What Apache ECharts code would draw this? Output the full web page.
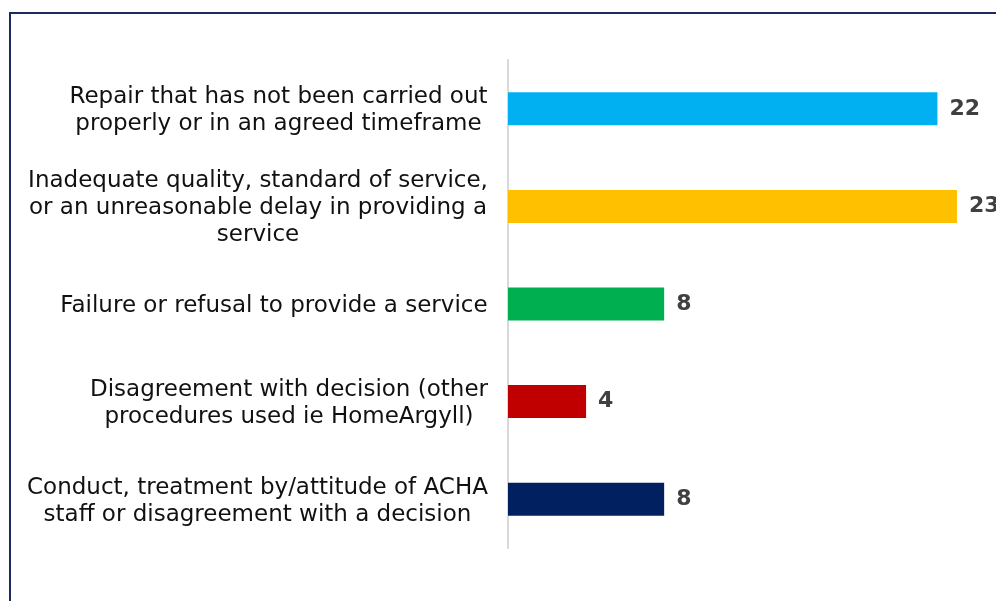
<!DOCTYPE html>
<html>
<head>
<meta charset="utf-8">
<script src="https://cdn.jsdelivr.net/npm/echarts@6/dist/echarts.min.js"></script>
<style>
  html, body { margin: 0; padding: 0; background: #fff; }
  #main { width: 996px; height: 601px; }
</style>
</head>
<body>
<div id="main"></div>
<script>
// 分类和数值
var categories = [
    'Repair that has not been carried out\nproperly or in an agreed timeframe',
    'Inadequate quality, standard of service,\nor an unreasonable delay in providing a\nservice',
    'Failure or refusal to provide a service',
    'Disagreement with decision (other\nprocedures used ie HomeArgyll)',
    'Conduct, treatment by/attitude of ACHA\nstaff or disagreement with a decision'
];
var counts = [22, 23, 8, 4, 8];
var barColors = ['#00b0f0', '#ffc000', '#00b050', '#c00000', '#002060'];

var labelFont = 'DejaVu Sans';
var labelSize = 23;

// 每个标签按最长一行算宽度，行内居中
var ctx = document.createElement('canvas').getContext('2d');
ctx.font = labelSize + 'px "' + labelFont + '"';
var rich = {};
categories.forEach(function (c, i) {
    var w = 0;
    c.split('\n').forEach(function (line) {
        w = Math.max(w, ctx.measureText(line).width);
    });
    rich['c' + i] = {
        width: Math.ceil(w),
        align: 'center',
        fontFamily: labelFont,
        fontSize: labelSize,
        lineHeight: 27,
        color: '#111111'
    };
});

var myChart = echarts.init(document.getElementById('main'));

var option = {
    backgroundColor: '#ffffff',
    animation: false,
    // 外框
    graphic: [
        {
            type: 'rect',
            shape: { x: 10, y: 13, width: 1000, height: 600 },
            style: { fill: 'none', stroke: '#1c2a5e', lineWidth: 2 }
        }
    ],
    grid: {
        left: 508,
        top: 60,
        width: 489,
        height: 488
    },
    xAxis: {
        type: 'value',
        min: 0,
        max: 25,
        show: false
    },
    yAxis: {
        type: 'category',
        inverse: true,
        data: categories,
        axisLine: { show: true, lineStyle: { color: '#d9d9d9', width: 2 } },
        axisTick: { show: false },
        axisLabel: {
            margin: 20,
            align: 'right',
            padding: [4, 0, 0, 0],
            fontFamily: labelFont,
            fontSize: labelSize,
            lineHeight: 27,
            color: '#111111',
            formatter: function (value) {
                var i = categories.indexOf(value);
                return value.split('\n').map(function (line) {
                    return '{c' + i + '|' + line + '}';
                }).join('\n');
            },
            rich: rich
        }
    },
    series: [
        {
            type: 'bar',
            barWidth: 33,
            data: counts.map(function (v, i) {
                return { value: v, itemStyle: { color: barColors[i] } };
            }),
            label: {
                show: true,
                position: 'right',
                distance: 12,
                fontFamily: 'DejaVu Sans',
                fontSize: 22,
                fontWeight: 'bold',
                color: '#404040'
            }
        }
    ]
};

myChart.setOption(option);
</script>
</body>
</html>
